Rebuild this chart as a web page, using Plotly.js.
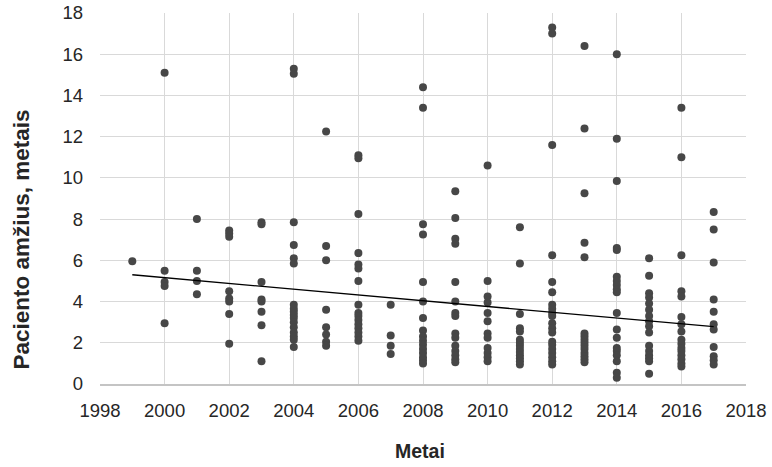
<!DOCTYPE html>
<html>
<head>
<meta charset="utf-8">
<script src="https://cdn.plot.ly/plotly-3.0.1.min.js"></script>
<style>html,body{margin:0;padding:0;background:#fff;}#chart{width:772px;height:467px;}</style>
</head>
<body>
<div id="chart"></div>
<script>
const years = [1999,2000,2001,2002,2003,2004,2005,2006,2007,2008,2009,2010,2011,2012,2013,2014,2015,2016,2017];
const agesByYear = [
  [5.95],
  [15.1, 5.5, 4.95, 4.75, 2.95],
  [8.0, 5.5, 5.0, 4.35],
  [7.45, 7.3, 7.15, 4.5, 4.15, 4.0, 3.4, 1.95],
  [7.85, 7.75, 4.95, 4.1, 4.0, 3.5, 2.85, 1.1],
  [15.3, 15.05, 7.85, 6.75, 6.1, 5.85, 3.85, 3.65, 3.5, 3.35, 3.2, 3.0, 2.75, 2.5, 2.3, 2.15, 1.8],
  [12.25, 6.7, 6.0, 3.6, 2.75, 2.4, 2.05, 1.85],
  [11.1, 10.95, 8.25, 6.35, 5.8, 5.6, 5.0, 3.85, 3.45, 3.3, 3.1, 2.9, 2.7, 2.5, 2.3, 2.1],
  [3.85, 2.35, 1.85, 1.45],
  [14.4, 13.4, 7.75, 7.25, 4.95, 4.0, 3.2, 2.6, 2.3, 2.1, 1.9, 1.7, 1.5, 1.3, 1.15, 1.0],
  [9.35, 8.05, 7.05, 6.8, 4.95, 4.0, 3.45, 3.3, 2.45, 2.25, 1.85, 1.6, 1.4, 1.2, 1.05],
  [10.6, 5.0, 4.25, 3.95, 3.45, 3.05, 2.45, 2.25, 1.75, 1.5, 1.3, 1.1],
  [7.6, 5.85, 3.4, 2.7, 2.55, 2.15, 2.0, 1.85, 1.7, 1.55, 1.4, 1.25, 1.1, 0.95],
  [17.3, 17.0, 11.6, 6.25, 4.95, 4.45, 3.85, 3.65, 3.45, 3.3, 2.95, 2.7, 2.5, 2.05, 1.9, 1.7, 1.5, 1.3, 1.1, 0.95],
  [16.4, 12.4, 9.25, 6.85, 6.15, 2.45, 2.3, 2.15, 2.0, 1.85, 1.7, 1.5, 1.35, 1.2, 1.05],
  [16.0, 11.9, 9.85, 6.6, 6.5, 5.2, 5.0, 4.8, 4.6, 4.45, 3.45, 2.65, 2.25, 1.75, 1.6, 1.4, 1.1, 0.55, 0.3],
  [6.1, 5.25, 4.4, 4.2, 3.9, 3.6, 3.3, 3.05, 2.8, 2.5, 1.85, 1.6, 1.4, 1.25, 1.1, 0.5],
  [13.4, 11.0, 6.25, 4.5, 4.25, 3.25, 2.9, 2.55, 2.15, 1.95, 1.75, 1.6, 1.4, 1.2, 1.0, 0.85],
  [8.35, 7.5, 5.9, 4.1, 3.5, 2.9, 2.65, 1.8, 1.35, 1.15, 0.95]
];
const trendX = [1999, 2017];
const trendY = [5.3, 2.78];
const xTickVals = [1998,2000,2002,2004,2006,2008,2010,2012,2014,2016,2018];
const yTickVals = [0,2,4,6,8,10,12,14,16,18];
const xTitle = 'Metai';
const yTitle = 'Paciento amžius, metais';

const px = [], py = [];
years.forEach((yr, i) => agesByYear[i].forEach(v => { px.push(yr); py.push(v); }));

const font = 'Liberation Sans, Arial, sans-serif';
const data = [
  {x: px, y: py, type: 'scatter', mode: 'markers',
   marker: {color: '#474747', size: 8}, hoverinfo: 'skip', showlegend: false},
  {x: trendX, y: trendY, type: 'scatter', mode: 'lines',
   line: {color: '#000000', width: 1.3}, hoverinfo: 'skip', showlegend: false}
];
const layout = {
  width: 772, height: 467,
  margin: {l: 100, r: 26, t: 13, b: 83, pad: 0},
  paper_bgcolor: '#ffffff', plot_bgcolor: '#ffffff',
  font: {family: font, color: '#262626', size: 18},
  xaxis: {range: [1998, 2018], tickvals: xTickVals, ticktext: xTickVals.map(String),
    showgrid: true, gridcolor: '#d9d9d9', gridwidth: 1,
    showline: true, linecolor: '#c4c4c4', linewidth: 1.5, mirror: false,
    zeroline: false, ticks: '', ticklabelstandoff: 9,
    tickfont: {family: font, size: 18.5, color: '#262626'}},
  yaxis: {range: [0, 18], tickvals: yTickVals, ticktext: yTickVals.map(String),
    showgrid: true, gridcolor: '#d9d9d9', gridwidth: 1,
    showline: false, zeroline: false, ticks: '', ticklabelstandoff: 16,
    tickfont: {family: font, size: 18.5, color: '#262626'}},
  annotations: [
    {text: '<b>' + xTitle + '</b>', xref: 'paper', yref: 'paper', x: 0.495, y: -0.18,
     xanchor: 'center', yanchor: 'middle', showarrow: false,
     font: {family: font, size: 19.5, color: '#262626'}},
    {text: '<b>' + yTitle + '</b>', xref: 'paper', yref: 'paper', x: -0.122, y: 0.39,
     xanchor: 'center', yanchor: 'middle', textangle: -90, showarrow: false,
     font: {family: font, size: 22.5, color: '#262626'}}
  ]
};
Plotly.newPlot('chart', data, layout, {displayModeBar: false, staticPlot: true});
</script>
</body>
</html>
